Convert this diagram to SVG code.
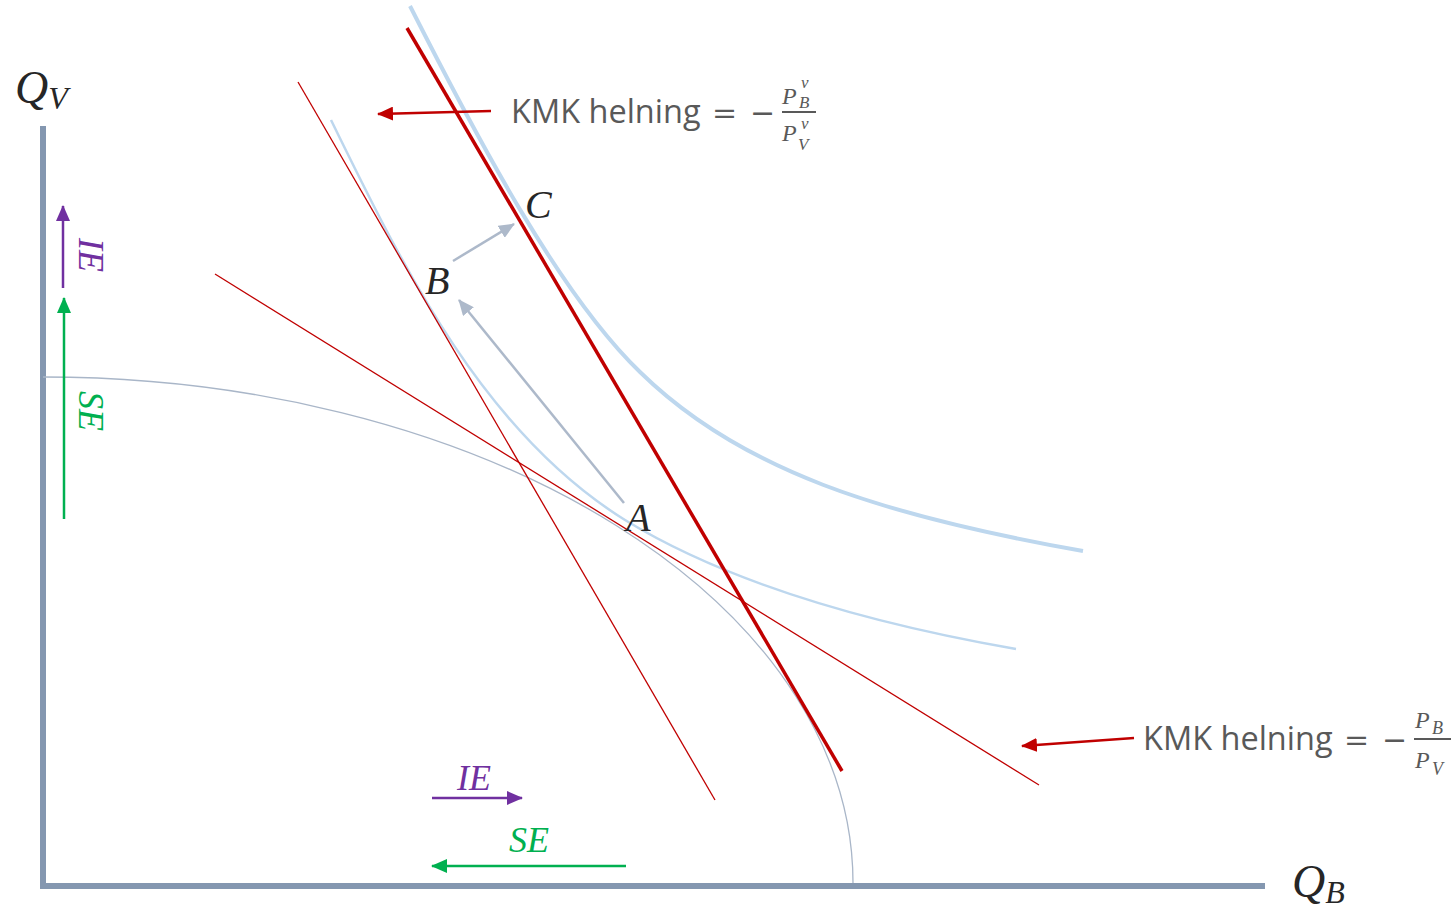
<svg xmlns="http://www.w3.org/2000/svg" width="1455" height="909" viewBox="0 0 1455 909">
<defs>
<marker id="mRed" markerUnits="userSpaceOnUse" markerWidth="16" markerHeight="14" refX="15" refY="7" orient="auto"><path d="M0,0 L16,7 L0,14 Z" fill="#C00000"/></marker>
<marker id="mGrey" markerUnits="userSpaceOnUse" markerWidth="16" markerHeight="14" refX="15" refY="7" orient="auto"><path d="M0,0 L16,7 L0,14 Z" fill="#ADB9CA"/></marker>
<marker id="mPurple" markerUnits="userSpaceOnUse" markerWidth="16" markerHeight="14" refX="15" refY="7" orient="auto"><path d="M0,0 L16,7 L0,14 Z" fill="#7030A0"/></marker>
<marker id="mGreen" markerUnits="userSpaceOnUse" markerWidth="16" markerHeight="14" refX="15" refY="7" orient="auto"><path d="M0,0 L16,7 L0,14 Z" fill="#00B050"/></marker>
</defs>
<style>
.axis{stroke:#8497B0;stroke-width:6;fill:none}
.ppf{stroke:#A9B6C8;stroke-width:1.3;fill:none}
.ic{stroke:#BDD7EE;fill:none}
.red{stroke:#C00000;fill:none}
.math{font-family:"Liberation Serif","DejaVu Serif",serif;font-style:italic;fill:#262626}
.lbl{font-family:"Open Sans","Liberation Sans",sans-serif;fill:#595959;font-size:32.5px}
.fm{font-family:"Liberation Serif","DejaVu Serif",serif;font-style:italic;fill:#595959}
.op{font-family:"DejaVu Serif","Liberation Serif",serif;fill:#595959;font-size:30px}
</style>
<rect width="1455" height="909" fill="#ffffff"/>
<g id="axes">
<path class="axis" d="M43,126 L43,886 L1265,886"/>
<text class="math" x="15" y="103" font-size="46">Q<tspan font-size="32" dy="6">V</tspan></text>
<text class="math" x="1292" y="897" font-size="46">Q<tspan font-size="32" dy="6">B</tspan></text>
</g>
<g id="ppf"><path class="ppf" d="M43,377 A810,506 0 0 1 853,883"/></g>
<g id="ic1"><path class="ic" stroke-width="2.5" d="M331,120 C400,260 480,430 625,520 C720,578 850,620 1016,649"/></g>
<g id="ic2"><path class="ic" stroke-width="4" d="M410,6 C478,140 560,295 640,372 C740,470 880,515 1083,551"/></g>
<g id="budget">
<line class="red" stroke-width="1.3" x1="298" y1="82" x2="715" y2="800"/>
<line class="red" stroke-width="1.3" x1="215" y1="274" x2="1039" y2="785"/>
<line class="red" stroke-width="3.5" x1="407" y1="28" x2="842" y2="771"/>
</g>
<g id="connectors">
<line stroke="#C00000" stroke-width="2.5" x1="491" y1="111" x2="378" y2="114" marker-end="url(#mRed)"/>
<line stroke="#C00000" stroke-width="2.5" x1="1134" y1="738" x2="1022" y2="746" marker-end="url(#mRed)"/>
<line stroke="#ADB9CA" stroke-width="2.5" x1="624" y1="503" x2="459" y2="300" marker-end="url(#mGrey)"/>
<line stroke="#ADB9CA" stroke-width="2.5" x1="453" y1="261" x2="514" y2="224" marker-end="url(#mGrey)"/>
<line stroke="#7030A0" stroke-width="2.5" x1="63" y1="288" x2="63" y2="206" marker-end="url(#mPurple)"/>
<line stroke="#00B050" stroke-width="2.5" x1="64" y1="519" x2="64" y2="298" marker-end="url(#mGreen)"/>
<line stroke="#7030A0" stroke-width="2.5" x1="432" y1="798" x2="522" y2="798" marker-end="url(#mPurple)"/>
<line stroke="#00B050" stroke-width="2.5" x1="626" y1="866" x2="432" y2="866" marker-end="url(#mGreen)"/>
</g>
<g id="points">
<text class="math" x="626" y="531" font-size="40">A</text>
<text class="math" x="425" y="294" font-size="40">B</text>
<text class="math" x="525" y="218" font-size="40">C</text>
</g>
<g id="effects">
<text class="math" x="79" y="238" font-size="36" style="fill:#7030A0" transform="rotate(90 79 238)">IE</text>
<text class="math" x="79" y="391" font-size="36" style="fill:#00B050" transform="rotate(90 79 391)">SE</text>
<text class="math" x="457" y="790" font-size="36" style="fill:#7030A0">IE</text>
<text class="math" x="509" y="852" font-size="36" style="fill:#00B050">SE</text>
</g>
<g id="label1">
<text class="lbl" x="511" y="123">KMK helning</text>
<text class="op" x="712" y="123">=</text>
<text class="op" x="750" y="123">−</text>
<text class="fm" x="782" y="104" font-size="24">P</text>
<text class="fm" x="801" y="88" font-size="17">v</text>
<text class="fm" x="799" y="108" font-size="17">B</text>
<line x1="782" y1="112" x2="816" y2="112" stroke="#595959" stroke-width="2"/>
<text class="fm" x="782" y="141" font-size="24">P</text>
<text class="fm" x="801" y="129" font-size="17">v</text>
<text class="fm" x="798" y="150" font-size="17">V</text>
</g>
<g id="label2">
<text class="lbl" x="1143" y="750">KMK helning</text>
<text class="op" x="1344" y="750">=</text>
<text class="op" x="1382" y="750">−</text>
<text class="fm" x="1415" y="728" font-size="24">P</text>
<text class="fm" x="1432" y="734" font-size="18">B</text>
<line x1="1414" y1="739" x2="1451" y2="739" stroke="#595959" stroke-width="2"/>
<text class="fm" x="1415" y="768" font-size="24">P</text>
<text class="fm" x="1432" y="775" font-size="18">V</text>
</g>
</svg>
